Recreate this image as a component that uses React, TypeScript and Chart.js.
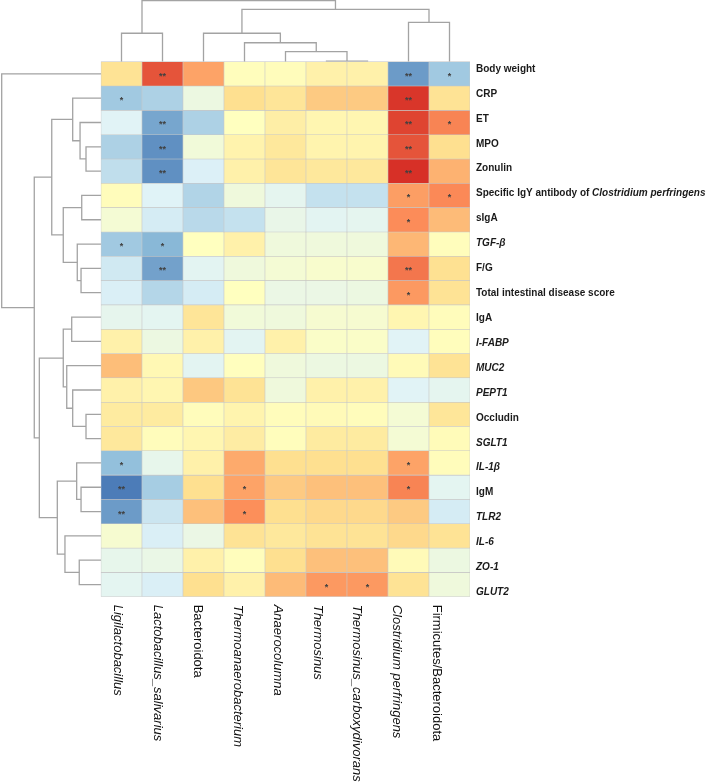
import React, { useEffect, useRef } from "react";
import { Chart, registerables } from "chart.js";

Chart.register(...registerables);

// ---------- data ----------
const columnLabels = [
  "Ligilactobacillus",
  "Lactobacillus_salivarius",
  "Bacteroidota",
  "Thermoanaerobacterium",
  "Anaerocolumna",
  "Thermosinus",
  "Thermosinus_carboxydivorans",
  "Clostridium perfringens",
  "Firmicutes/Bacteroidota",
];
const columnItalic = [true, true, false, true, true, true, true, true, false];

const rowLabels = [
  "Body weight",
  "CRP",
  "ET",
  "MPO",
  "Zonulin",
  "Specific IgY antibody of <i>Clostridium perfringens</i>",
  "sIgA",
  "<i>TGF-β</i>",
  "F/G",
  "Total intestinal disease score",
  "IgA",
  "<i>I-FABP</i>",
  "<i>MUC2</i>",
  "<i>PEPT1</i>",
  "Occludin",
  "<i>SGLT1</i>",
  "<i>IL-1β</i>",
  "IgM",
  "<i>TLR2</i>",
  "<i>IL-6</i>",
  "<i>ZO-1</i>",
  "<i>GLUT2</i>",
];

// correlation coefficients, one row per indicator, columns in columnLabels order
const correlation = [
  [0.3, 0.87, 0.58, 0.02, 0.03, 0.15, 0.15, -0.83, -0.6],
  [-0.6, -0.55, -0.2, 0.33, 0.28, 0.42, 0.42, 0.98, 0.3],
  [-0.32, -0.78, -0.55, 0.0, 0.18, 0.1, 0.1, 0.93, 0.7],
  [-0.55, -0.88, -0.15, 0.13, 0.25, 0.12, 0.12, 0.87, 0.33],
  [-0.47, -0.88, -0.35, 0.15, 0.28, 0.25, 0.25, 1.0, 0.52],
  [0.03, -0.33, -0.53, -0.17, -0.28, -0.45, -0.45, 0.6, 0.68],
  [-0.12, -0.38, -0.5, -0.45, -0.24, -0.3, -0.28, 0.67, 0.48],
  [-0.6, -0.7, 0.0, 0.15, -0.17, -0.17, -0.17, 0.5, 0.02],
  [-0.4, -0.8, -0.3, -0.17, -0.12, -0.08, -0.08, 0.75, 0.32],
  [-0.36, -0.52, -0.38, 0.0, -0.22, -0.22, -0.2, 0.62, 0.3],
  [-0.27, -0.29, 0.28, -0.15, -0.17, -0.1, -0.1, 0.1, 0.03],
  [0.15, -0.2, 0.15, -0.3, 0.15, -0.05, -0.05, -0.32, 0.02],
  [0.47, 0.08, -0.3, 0.01, -0.17, -0.2, -0.2, 0.05, 0.3],
  [0.15, 0.1, 0.43, 0.3, -0.17, 0.15, 0.15, -0.32, -0.28],
  [0.22, 0.22, 0.03, 0.12, 0.03, 0.05, 0.03, -0.12, 0.27],
  [0.25, 0.03, 0.1, 0.2, 0.02, 0.22, 0.22, -0.12, 0.04],
  [-0.66, -0.26, 0.15, 0.55, 0.33, 0.33, 0.33, 0.58, 0.03],
  [-0.97, -0.58, 0.33, 0.58, 0.42, 0.46, 0.46, 0.7, -0.29],
  [-0.83, -0.42, 0.46, 0.66, 0.33, 0.36, 0.36, 0.42, -0.38],
  [-0.1, -0.36, -0.22, 0.3, 0.25, 0.3, 0.3, 0.36, 0.3],
  [-0.26, -0.23, 0.15, 0.02, 0.33, 0.46, 0.46, 0.05, -0.2],
  [-0.29, -0.36, 0.33, 0.15, 0.48, 0.62, 0.62, 0.3, -0.17],
];

// significance marks
const significance = [
  ["", "**", "", "", "", "", "", "**", "*"],
  ["*", "", "", "", "", "", "", "**", ""],
  ["", "**", "", "", "", "", "", "**", "*"],
  ["", "**", "", "", "", "", "", "**", ""],
  ["", "**", "", "", "", "", "", "**", ""],
  ["", "", "", "", "", "", "", "*", "*"],
  ["", "", "", "", "", "", "", "*", ""],
  ["*", "*", "", "", "", "", "", "", ""],
  ["", "**", "", "", "", "", "", "**", ""],
  ["", "", "", "", "", "", "", "*", ""],
  ["", "", "", "", "", "", "", "", ""],
  ["", "", "", "", "", "", "", "", ""],
  ["", "", "", "", "", "", "", "", ""],
  ["", "", "", "", "", "", "", "", ""],
  ["", "", "", "", "", "", "", "", ""],
  ["", "", "", "", "", "", "", "", ""],
  ["*", "", "", "", "", "", "", "*", ""],
  ["**", "", "", "*", "", "", "", "*", ""],
  ["**", "", "", "*", "", "", "", "", ""],
  ["", "", "", "", "", "", "", "", ""],
  ["", "", "", "", "", "", "", "", ""],
  ["", "", "", "", "", "*", "*", "", ""],
];

// hierarchical clustering (scipy-style: [childA, childB, height]; leaves 0..n-1, new nodes n..)
const rowMerges: [number, number, number][] = [
  [3, 4, 0.151],
  [2, 22, 0.211],
  [1, 23, 0.285],
  [5, 6, 0.194],
  [8, 9, 0.201],
  [7, 26, 0.239],
  [25, 27, 0.38],
  [24, 28, 0.496],
  [10, 11, 0.295],
  [14, 15, 0.151],
  [13, 31, 0.285],
  [12, 32, 0.345],
  [30, 33, 0.38],
  [17, 18, 0.201],
  [16, 35, 0.245],
  [20, 21, 0.219],
  [19, 37, 0.363],
  [36, 38, 0.44],
  [34, 39, 0.621],
  [29, 40, 0.672],
  [0, 41, 1.0],
];

const colMerges: [number, number, number][] = [
  [5, 6, 0.008],
  [4, 9, 0.164],
  [3, 10, 0.311],
  [2, 11, 0.466],
  [0, 1, 0.466],
  [7, 8, 0.646],
  [12, 14, 0.859],
  [13, 15, 1.0],
];

// ---------- helpers ----------
const paletteStops = ["#4575b4", "#91bfdb", "#e0f3f8", "#ffffbf", "#fee090", "#fc8d59", "#d73027"];

function hexToRgb(h: string) {
  return [parseInt(h.slice(1, 3), 16), parseInt(h.slice(3, 5), 16), parseInt(h.slice(5, 7), 16)];
}

function colorFor(v: number) {
  const clamped = Math.max(-1, Math.min(1, v));
  const t = ((clamped + 1) / 2) * (paletteStops.length - 1);
  const i = Math.min(Math.floor(t), paletteStops.length - 2);
  const f = t - i;
  const a = hexToRgb(paletteStops[i]);
  const b = hexToRgb(paletteStops[i + 1]);
  const c = a.map((x, k) => Math.round(x + (b[k] - x) * f));
  return `rgb(${c[0]},${c[1]},${c[2]})`;
}

type Link = { pa: number; ha: number; pb: number; hb: number; h: number };
function buildTree(merges: [number, number, number][], nLeaves: number): Link[] {
  const pos: number[] = Array.from({ length: nLeaves }, (_, i) => i + 0.5);
  const hgt: number[] = Array(nLeaves).fill(0);
  const links: Link[] = [];
  merges.forEach(([a, b, h]) => {
    links.push({ pa: pos[a], ha: hgt[a], pb: pos[b], hb: hgt[b], h });
    pos.push((pos[a] + pos[b]) / 2);
    hgt.push(h);
  });
  return links;
}

function parseSegments(label: string) {
  const parts: { text: string; italic: boolean }[] = [];
  const re = /<i>(.*?)<\/i>/g;
  let last = 0;
  let m: RegExpExecArray | null;
  while ((m = re.exec(label))) {
    if (m.index > last) parts.push({ text: label.slice(last, m.index), italic: false });
    parts.push({ text: m[1], italic: true });
    last = m.index + m[0].length;
  }
  if (last < label.length) parts.push({ text: label.slice(last), italic: false });
  return parts;
}

// ---------- layout constants ----------
const nCols = columnLabels.length;
const nRows = rowLabels.length;
const xLeftUnits = 101 / 41; // room for row dendrogram (in column widths)
const yTopUnits = 61.7 / 24.32; // room for column dendrogram (in row heights)
const rowTreeSpan = 99.3 / 41;
const colTreeSpan = 61 / 24.32;
const treeColor = "#a3a3a3";

export default function App() {
  const canvasRef = useRef<HTMLCanvasElement | null>(null);

  useEffect(() => {
    const canvas = canvasRef.current;
    if (!canvas) return;

    const cellDatasets = correlation.map((row, r) => ({
      type: "bar" as const,
      label: rowLabels[r],
      data: row.map((_, c) => ({ x: c + 0.5, y: [r, r + 1] })),
      backgroundColor: row.map((v) => colorFor(v)),
      borderColor: "#c6c6c6",
      borderWidth: 0.6,
      borderSkipped: false,
      grouped: false,
      barPercentage: 1,
      categoryPercentage: 1,
    }));

    const rowLinks = buildTree(rowMerges, nRows);
    const colLinks = buildTree(colMerges, nCols);

    const treeStyle = {
      type: "line" as const,
      borderColor: treeColor,
      borderWidth: 1.3,
      pointRadius: 0,
      fill: false,
      tension: 0,
      clip: false as const,
    };

    const rowTreeDatasets = rowLinks.map((l) => ({
      ...treeStyle,
      label: "row-tree",
      data: [
        { x: -l.ha * rowTreeSpan, y: l.pa },
        { x: -l.h * rowTreeSpan, y: l.pa },
        { x: -l.h * rowTreeSpan, y: l.pb },
        { x: -l.hb * rowTreeSpan, y: l.pb },
      ],
    }));

    const colTreeDatasets = colLinks.map((l) => ({
      ...treeStyle,
      label: "col-tree",
      data: [
        { x: l.pa, y: -l.ha * colTreeSpan },
        { x: l.pa, y: -l.h * colTreeSpan },
        { x: l.pb, y: -l.h * colTreeSpan },
        { x: l.pb, y: -l.hb * colTreeSpan },
      ],
    }));

    const textPlugin = {
      id: "heatmapText",
      afterDatasetsDraw(chart: any) {
        const ctx = chart.ctx as CanvasRenderingContext2D;
        const xs = chart.scales.x;
        const ys = chart.scales.y;
        const area = chart.chartArea;
        ctx.save();

        // significance marks
        ctx.fillStyle = "#404040";
        ctx.font = "bold 9px 'Liberation Sans', Arial, sans-serif";
        ctx.textAlign = "center";
        ctx.textBaseline = "alphabetic";
        significance.forEach((row, r) => {
          row.forEach((s, c) => {
            if (!s) return;
            const px = xs.getPixelForValue(c + 0.5);
            const py = ys.getPixelForValue(r + 0.5);
            ctx.fillText(s, px, py + 5);
          });
        });

        // row labels
        ctx.fillStyle = "#1a1a1a";
        ctx.textAlign = "left";
        ctx.textBaseline = "middle";
        rowLabels.forEach((label, r) => {
          let x = area.right + 6;
          const y = ys.getPixelForValue(r + 0.5) + (r - 8.1) * 0.6;
          parseSegments(label).forEach((seg) => {
            ctx.font = `${seg.italic ? "italic " : ""}bold 10px 'Liberation Sans', Arial, sans-serif`;
            ctx.fillText(seg.text, x, y);
            x += ctx.measureText(seg.text).width;
          });
        });

        // column labels (rotated, reading top to bottom)
        ctx.fillStyle = "#111111";
        columnLabels.forEach((label, c) => {
          const x = xs.getPixelForValue(c + 0.5) - 3.8 - 1.1 * c;
          const y = area.bottom + 8;
          ctx.save();
          ctx.translate(x, y);
          ctx.rotate(Math.PI / 2);
          ctx.font = `${columnItalic[c] ? "italic " : ""}13px 'Liberation Sans', Arial, sans-serif`;
          ctx.textAlign = "left";
          ctx.textBaseline = "middle";
          ctx.fillText(label, 0, 0);
          ctx.restore();
        });

        ctx.restore();
      },
    };

    const chart = new Chart(canvas, {
      type: "bar",
      data: {
        datasets: [...cellDatasets, ...rowTreeDatasets, ...colTreeDatasets] as any,
      },
      options: {
        responsive: false,
        devicePixelRatio: 1,
        animation: false,
        events: [],
        layout: { padding: { left: 0, top: 0, right: 238, bottom: 185.3 } },
        plugins: {
          legend: { display: false },
          tooltip: { enabled: false },
          title: { display: false },
        },
        scales: {
          x: {
            type: "linear",
            display: false,
            min: -xLeftUnits,
            max: nCols,
            offset: false,
            afterBuildTicks: (axis: any) => {
              axis.ticks = Array.from({ length: nCols + 1 }, (_, i) => ({ value: i }));
            },
          },
          y: {
            type: "linear",
            display: false,
            reverse: true,
            min: -yTopUnits,
            max: nRows,
            offset: false,
          },
        },
      } as any,
      plugins: [textPlugin],
    });

    return () => chart.destroy();
  }, []);

  return (
    <div style={{ position: "absolute", left: 0, top: 0, width: 708, height: 782, background: "#fff" }}>
      <canvas ref={canvasRef} width={708} height={782} style={{ display: "block", width: 708, height: 782 }} />
    </div>
  );
}
